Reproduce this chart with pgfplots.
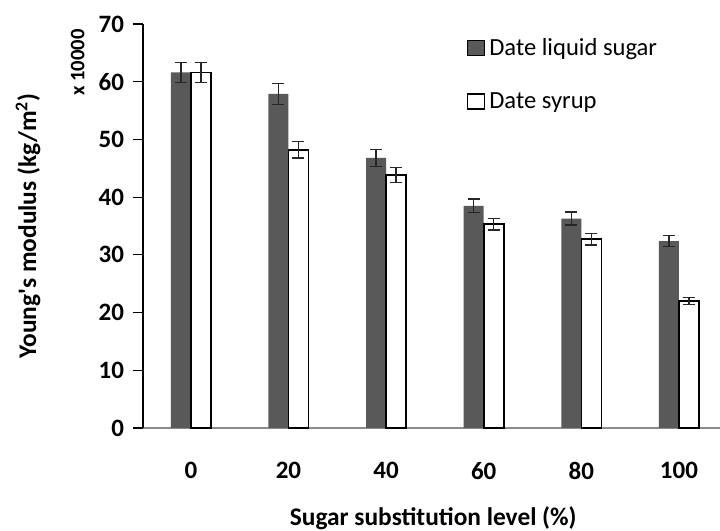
\documentclass[border=0pt]{standalone}
\usepackage{fontspec}
\setmainfont{Carlito}
\usepackage{pgfplots}
\pgfplotsset{compat=1.18}
\definecolor{darkbar}{HTML}{595959}
\definecolor{axgray}{HTML}{8C8C8C}
\begin{document}
\begin{tikzpicture}
\useasboundingbox (0,0) rectangle (360pt,265.5pt);
\begin{axis}[
  at={(71.5pt,51.5pt)}, anchor=south west,
  scale only axis, width=288.5pt, height=202pt,
  ybar=0pt, bar width=10pt,
  xmin=-0.49, xmax=5.42, ymin=0, ymax=70,
  xtick=data, xticklabels={0,20,40,60,80,100},
  ytick={0,10,...,70},
  axis x line=bottom, axis y line=left,
  axis line style={-},
  x axis line style={axgray, line width=0.8pt},
  y axis line style={black, line width=0.6pt},
  x tick style={draw=none},
  y tick style={black, line width=0.6pt},
  tick align=outside, major tick length=5pt,
  /pgf/number format/assume math mode=true,
  tick label style={font=\fontsize{12.5}{14}\selectfont\bfseries},
  xticklabel style={yshift=-8.5pt},
  yticklabel style={xshift=-1pt},
  ylabel={Young\textquotesingle s modulus (kg/m\textsuperscript{2})},
  ylabel style={at={(axis description cs:-0.199,0.5)}, anchor=center, font=\fontsize{12.7}{14}\selectfont\bfseries},
  xlabel={Sugar substitution level (\%)},
  xlabel style={at={(axis description cs:0.503,-0.223)}, anchor=center, font=\fontsize{12.7}{14}\selectfont\bfseries},
  legend style={at={(axis description cs:0.55,0.985)}, anchor=north west, draw=none, fill=none,
    font=\fontsize{12.3}{14}\selectfont, row sep=13pt, legend cell align=left},
  legend image code/.code={\draw[#1] (0pt,-3.5pt) rectangle (8.5pt,4pt);},
  clip=false,
]
\addplot[fill=darkbar, draw=none,
  error bars/.cd, y dir=both, y explicit,
  error bar style={black!85, line width=0.7pt}, error mark options={rotate=90, mark size=3pt, black!85, line width=0.7pt}]
  coordinates {
  (0,61.6) +- (0,1.7)
  (1,57.9) +- (0,1.8)
  (2,46.8) +- (0,1.5)
  (3,38.5) +- (0,1.2)
  (4,36.3) +- (0,1.1)
  (5,32.4) +- (0,1.0)
};
\addlegendentry{Date liquid sugar}
\addplot[fill=white, draw=black, line width=0.8pt,
  error bars/.cd, y dir=both, y explicit,
  error bar style={black!85, line width=0.7pt}, error mark options={rotate=90, mark size=3pt, black!85, line width=0.7pt}]
  coordinates {
  (0,61.6) +- (0,1.7)
  (1,48.2) +- (0,1.4)
  (2,43.8) +- (0,1.3)
  (3,35.3) +- (0,1.0)
  (4,32.7) +- (0,1.0)
  (5,22.0) +- (0,0.6)
};
\addlegendentry{Date syrup}
\node[rotate=90, font=\fontsize{10.3}{12}\selectfont\bfseries] at (axis description cs:-0.113,0.905) {x 10000};
\end{axis}
\end{tikzpicture}
\end{document}
